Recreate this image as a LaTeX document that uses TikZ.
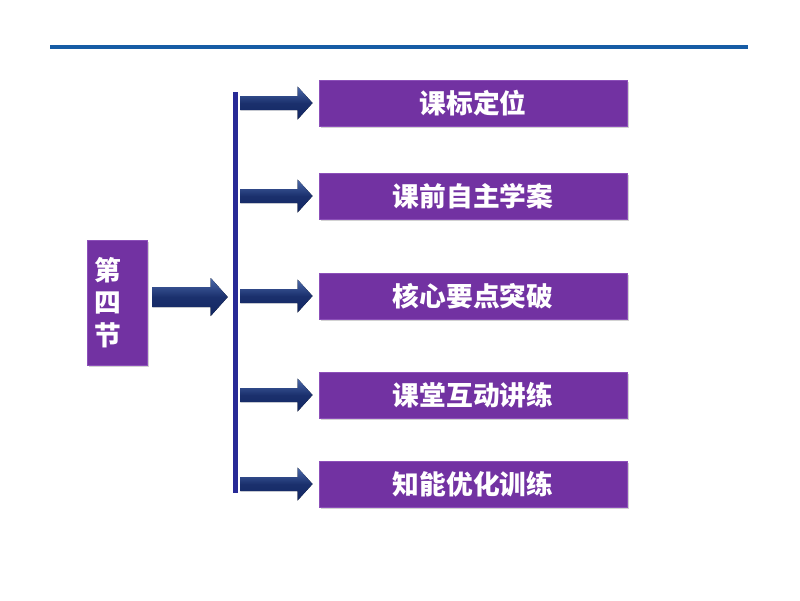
\documentclass[tikz,border=0pt]{standalone}
\usepackage{fontspec}
\newfontfamily\cjk{Noto Sans CJK SC}
\usetikzlibrary{calc,shadows}
\definecolor{boxpurple}{RGB}{114,50,162}
\definecolor{boxedge}{RGB}{140,80,185}
\definecolor{barblue}{RGB}{40,42,150}
\definecolor{linecol}{RGB}{22,92,165}
\definecolor{arrtop}{RGB}{75,105,170}
\definecolor{arrbot}{RGB}{18,38,98}
\tikzset{
  pbox/.style={draw=boxedge, line width=0.6pt, fill=boxpurple, text=white,
    drop shadow={shadow xshift=1.2pt, shadow yshift=-1.2pt, opacity=0.35},
    font=\cjk\bfseries\fontsize{19}{23}\selectfont},
  itembox/.style={pbox, minimum width=7.7cm, minimum height=1.15cm, inner sep=0pt},
  sectbox/.style={pbox, minimum width=1.5cm, minimum height=3.125cm, align=left,
    text width=1.1cm, inner xsep=0.2cm, inner ysep=0pt},
  vbar/.style={fill=barblue, minimum width=0.125cm, minimum height=10.025cm, inner sep=0pt},
  arrfill/.style={top color=arrtop, bottom color=arrbot, middle color=arrbot!85!arrtop},
  topline/.style={draw=linecol, line width=2.2pt}
}
\newcommand\blockarr[5]{%
  \fill[arrfill] ($(#1)+(0,-#3)$) -- ($(#2)+(-#5,-#3)$) -- ($(#2)+(-#5,-#4)$) -- (#2)
    -- ($(#2)+(-#5,#4)$) -- ($(#2)+(-#5,#3)$) -- ($(#1)+(0,#3)$) -- cycle;}
\begin{document}
\begin{tikzpicture}[x=0.025cm,y=-0.025cm]
\useasboundingbox[fill=white] (0,0) rectangle (800,600);
% top rule
\coordinate (tl) at (50,47);
\coordinate (tr) at (748,47);
\draw[topline] (tl) -- (tr);
% nodes
\node[sectbox] (sec) at (117,302.5) {第\\四\\节};
\node[vbar] (bar) at (235.5,292.5) {};
\node[itembox] (b1) at (473,103) {课标定位};
\node[itembox] (b2) at (473,196) {课前自主学案};
\node[itembox] (b3) at (473,296) {核心要点突破};
\node[itembox] (b4) at (473,395) {课堂互动讲练};
\node[itembox] (b5) at (473,484) {知能优化训练};
% main arrow
\coordinate (m0) at ($(sec.east)+(5,-5.5)$);
\coordinate (m1) at ($(bar.west |- m0)+(-5,0)$);
\blockarr{m0}{m1}{10}{19}{17}
% item arrows
\foreach \b in {b1,b2,b3,b4,b5}{
  \coordinate (s\b) at ($(bar.east |- \b.west)+(2,0)$);
  \coordinate (t\b) at ($(\b.west)+(-6,0)$);
  \blockarr{s\b}{t\b}{7}{16.5}{15}
}
\end{tikzpicture}
\end{document}
